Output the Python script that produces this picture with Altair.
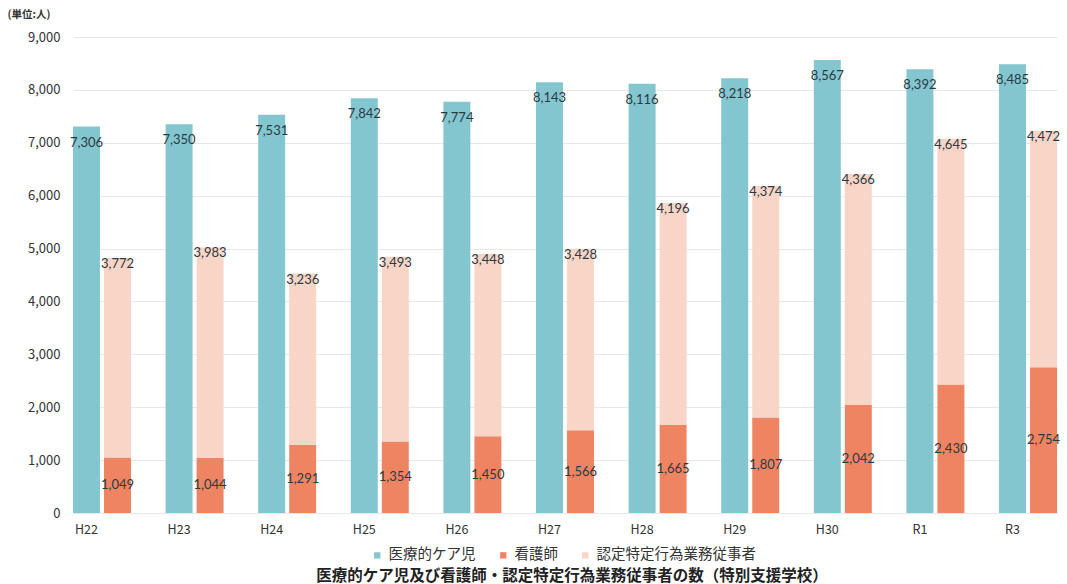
import altair as alt
import pandas as pd

years = ["H22", "H23", "H24", "H25", "H26", "H27", "H28", "H29", "H30", "R1", "R3"]
care_children = [7306, 7350, 7531, 7842, 7774, 8143, 8116, 8218, 8567, 8392, 8485]
nurses = [1049, 1044, 1291, 1354, 1450, 1566, 1665, 1807, 2042, 2430, 2754]
certified = [3772, 3983, 3236, 3493, 3448, 3428, 4196, 4374, 4366, 4645, 4472]

series_names = ["医療的ケア児", "看護師", "認定特定行為業務従事者"]
colors = ["#84c6d0", "#ef8462", "#f9d5c8"]

rows = []
for i, y in enumerate(years):
    rows.append(dict(year=y, series=series_names[0], grp="A", lower=0,
                     upper=care_children[i], value=care_children[i], kind="care"))
    rows.append(dict(year=y, series=series_names[1], grp="B", lower=0,
                     upper=nurses[i], value=nurses[i], kind="nurse"))
    rows.append(dict(year=y, series=series_names[2], grp="B", lower=nurses[i],
                     upper=nurses[i] + certified[i], value=certified[i], kind="cert"))
df = pd.DataFrame(rows)
df["mid"] = (df["lower"] + df["upper"]) / 2

FONT = "Noto Sans CJK JP"

x_enc = alt.X("year:N", sort=years,
              scale=alt.Scale(paddingInner=0.374, paddingOuter=0),
              axis=alt.Axis(title=None, labelAngle=0, ticks=False, domain=False,
                            labelOffset=-15.5, labelPadding=10, labelFontSize=12.5,
                            labelColor="#333333", labelFont=FONT))
xo_enc = alt.XOffset("grp:N", scale=alt.Scale(domain=["A", "B"], paddingInner=0.13, paddingOuter=0))

y_scale = alt.Scale(domain=[0, 9000], nice=False)

bars = alt.Chart(df).mark_bar().encode(
    x=x_enc,
    xOffset=xo_enc,
    y=alt.Y("upper:Q", scale=y_scale, stack=None,
            axis=alt.Axis(title="(単位:人)", titleAngle=0, titleX=-66, titleY=-18,
                          titleAlign="left", titleFontSize=10.5, titleFontWeight="bold",
                          titleColor="#333333", titleFont=FONT,
                          values=list(range(0, 9001, 1000)), format=",d",
                          domain=False, ticks=False, labelPadding=13,
                          labelFontSize=13, labelColor="#333333", labelFont=FONT,
                          gridColor="#e8e8e8")),
    y2="lower:Q",
    color=alt.Color("series:N", scale=alt.Scale(domain=series_names, range=colors),
                    legend=alt.Legend(title=None, orient="none", direction="horizontal",
                                      legendX=297, legendY=511, symbolType="square",
                                      symbolSize=40, labelFontSize=14.5, labelFont=FONT,
                                      labelColor="#333333", columnPadding=20,
                                      symbolStrokeWidth=0)),
)

def labels(kind, yfield, dy):
    return alt.Chart(df).transform_filter(alt.datum.kind == kind).mark_text(
        fontSize=13, color="#2b3a40", font="Lato", dy=dy, baseline="middle"
    ).encode(
        x=alt.X("year:N", sort=years),
        xOffset=alt.XOffset("grp:N"),
        y=alt.Y(f"{yfield}:Q", scale=y_scale),
        text=alt.Text("value:Q", format=","),
    )

chart = alt.layer(
    bars,
    labels("care", "upper", 16),
    labels("cert", "upper", 6),
    labels("nurse", "mid", 0),
).properties(
    width=984,
    height=476,
    padding={"left": 73, "top": 37, "right": 10, "bottom": 71},
    autosize=alt.AutoSizeParams(type="none"),
    title=alt.TitleParams("医療的ケア児及び看護師・認定特定行為業務従事者の数（特別支援学校）",
                          orient="bottom", anchor="middle", fontSize=15.5, font=FONT,
                          fontWeight="bold", color="#222222", offset=7, dx=7),
).configure_view(stroke=None)

chart.save("out.html", embed_options={"renderer": "svg", "actions": False})
